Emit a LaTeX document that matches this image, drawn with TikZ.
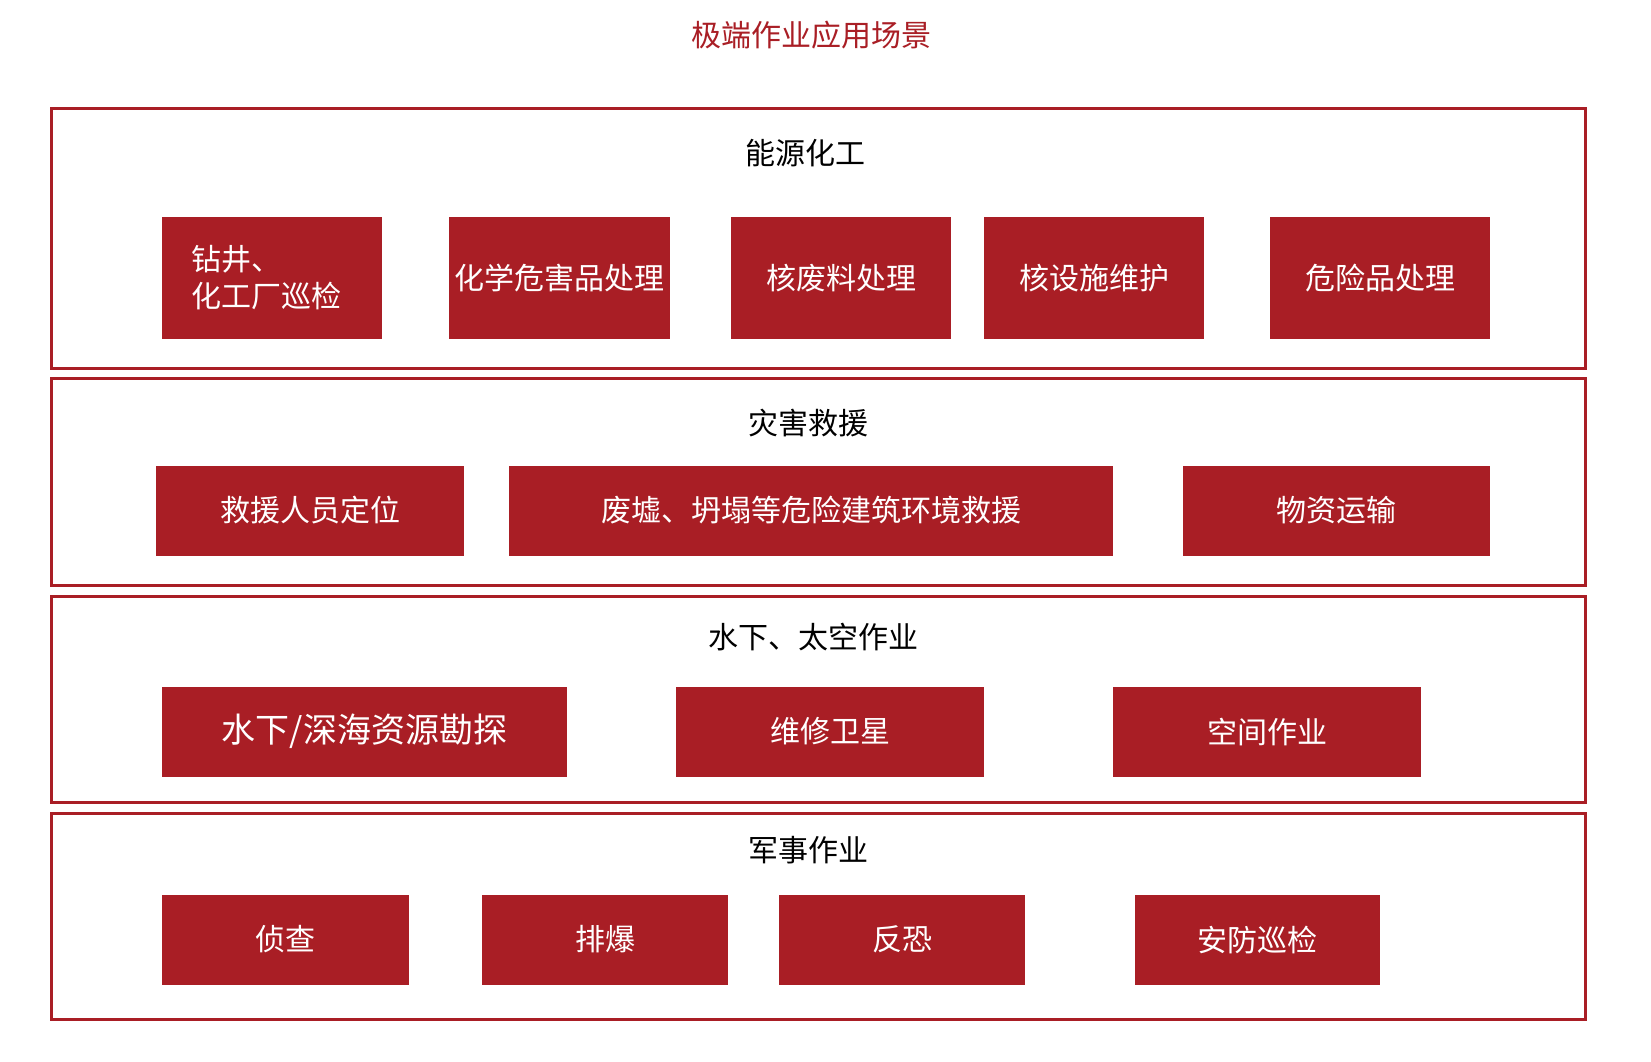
\documentclass[tikz,border=0pt]{standalone}
\usepackage{fontspec}
\setmainfont{Noto Sans CJK SC}
\usepackage{xcolor}
\usetikzlibrary{positioning}
\definecolor{deepred}{HTML}{A91E25}

\begin{document}
\begin{tikzpicture}[
  x=1pt,y=-1pt,
  panel/.style={draw=deepred,line width=2.6pt,minimum width=1534pt,inner sep=0pt},
  heading/.style={text=black,inner sep=0pt,font=\fontsize{30}{36}\selectfont},
  cell/.style={fill=deepred,text=white,inner sep=0pt,align=center,minimum width=#1,font=\fontsize{30}{37}\selectfont},
  tall/.style={cell=#1,minimum height=122pt},
  flat/.style={cell=#1,minimum height=90pt}
]
\useasboundingbox (0,0) rectangle (1651,1061);
\node[heading,text=deepred] (title) at (811,35) {极端作业应用场景};

% four bands
\node[panel,minimum height=260pt] (energy) at (818.5,238.5) {};
\node[panel,minimum height=207pt] (rescue) at (818.5,482) {};
\node[panel,minimum height=206pt] (space) at (818.5,699.5) {};
\node[panel,minimum height=206pt] (army) at (818.5,916.5) {};

\node[heading] (energyT) at (805,153) {能源化工};
\node[heading] (rescueT) at (808,423) {灾害救援};
\node[heading] (spaceT) at (813,637) {水下、太空作业};
\node[heading] (armyT) at (808,850) {军事作业};

% energy / chemicals
\node[tall=220pt,align=left,text width=162pt] (drill) at (272,278) {钻井、\\化工厂巡检};
\node[tall=221pt] (chem) at (559.5,278) {化学危害品处理};
\node[tall=220pt] (waste) at (841,278) {核废料处理};
\node[tall=220pt] (nuke) at (1094,278) {核设施维护};
\node[tall=220pt] (hazard) at (1380,278) {危险品处理};

% disaster relief
\node[flat=308pt] (locate) at (310,510.5) {救援人员定位};
\node[flat=604pt] (ruins) at (811,510.5) {废墟、坍塌等危险建筑环境救援};
\node[flat=307pt] (supply) at (1336.5,510.5) {物资运输};

% underwater / space
\node[flat=405pt,font=\fontsize{34}{40}\selectfont] (sea) at (364.5,731.5) {水下/深海资源勘探};
\node[flat=308pt] (sat) at (830,731.5) {维修卫星};
\node[flat=308pt] (orbit) at (1267,731.5) {空间作业};

% military
\node[flat=247pt] (scout) at (285.5,939.5) {侦查};
\node[flat=246pt] (bomb) at (605,939.5) {排爆};
\node[flat=246pt] (terror) at (902,939.5) {反恐};
\node[flat=245pt] (patrol) at (1257.5,939.5) {安防巡检};
\end{tikzpicture}
\end{document}
